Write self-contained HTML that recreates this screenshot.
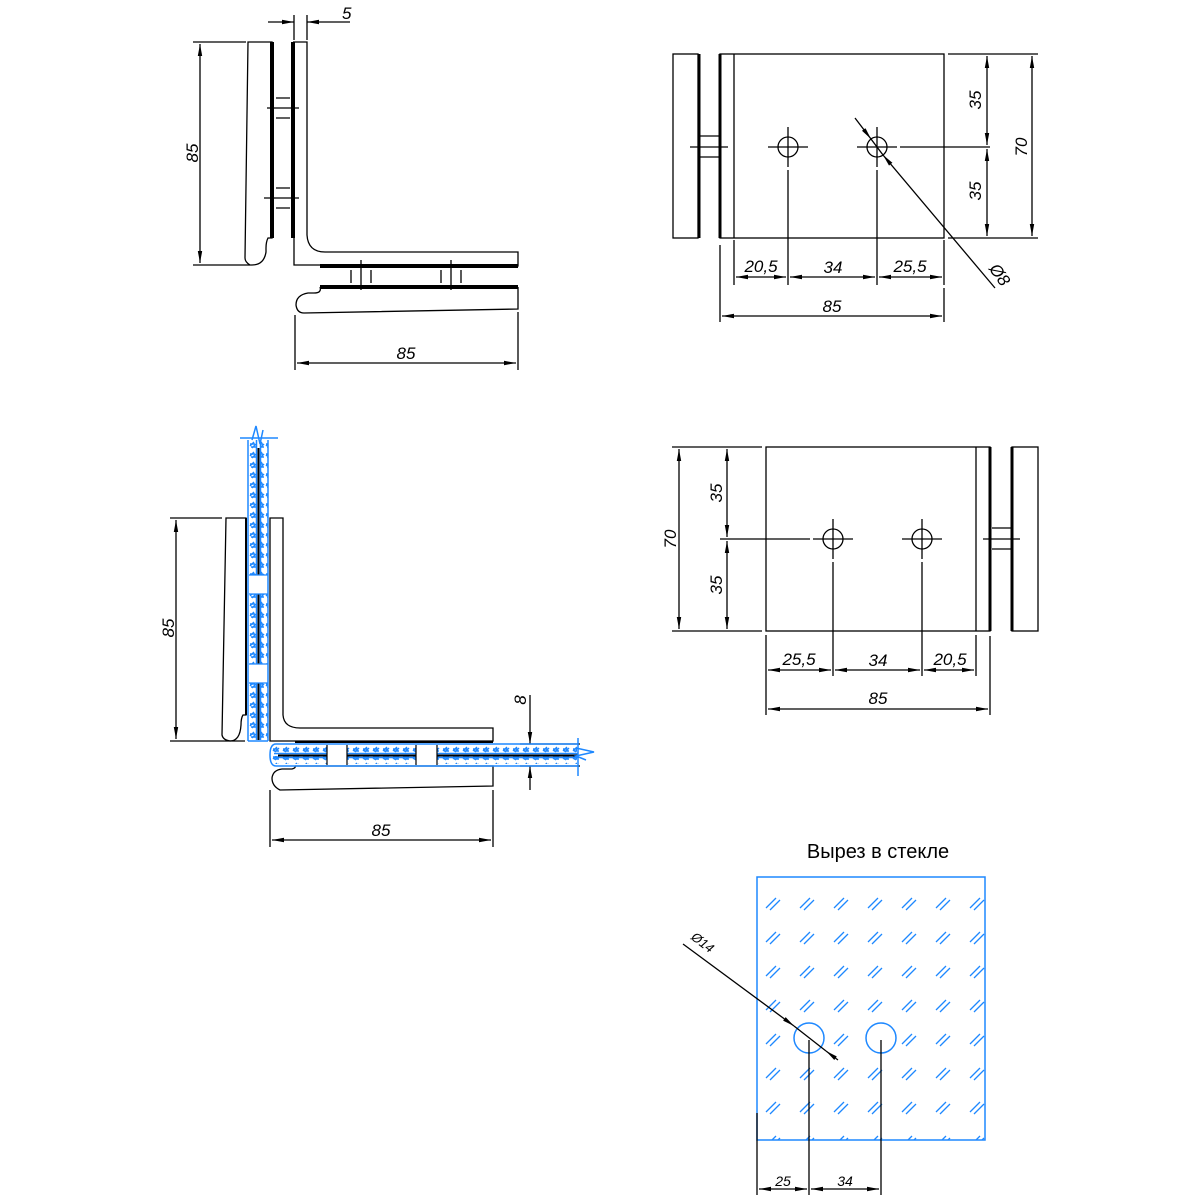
<!DOCTYPE html>
<html><head><meta charset="utf-8"><style>
html,body{margin:0;padding:0;background:#fff}
svg{display:block}
text{font-family:"Liberation Sans","DejaVu Sans",sans-serif;font-style:italic;font-size:17px;fill:#000}
</style></head><body>
<svg width="1200" height="1200" viewBox="0 0 1200 1200" xmlns="http://www.w3.org/2000/svg">
<defs>
<marker id="a" viewBox="0 0 12 6" refX="12" refY="3" markerWidth="12" markerHeight="6" orient="auto-start-reverse" markerUnits="userSpaceOnUse"><path d="M0,0.8 L12,3 L0,5.2z" fill="#000"/></marker>
<pattern id="hv" x="249" y="440" width="8" height="10" patternUnits="userSpaceOnUse"><path d="M1,6 L5,2 M3,8 L7,4 M1,4 H6 M2,7 H7" stroke="#1e88ff" stroke-width="1.4"/></pattern>
<pattern id="hh" x="272" y="745" width="10" height="8" patternUnits="userSpaceOnUse"><path d="M1,6 L5,2 M3,7 L7,3 M1,4 H6 M2,6 H7" stroke="#1e88ff" stroke-width="1.4"/></pattern>
<pattern id="hg" x="757" y="877" width="34" height="34" patternUnits="userSpaceOnUse"><path d="M9,31 L19,21 M13,33 L23,23" stroke="#1e88ff" stroke-width="1.3"/></pattern>
</defs>
<g fill="none" stroke="#000" stroke-width="1.3">
<path d="M248,42 L272,42 L272,238 L268,238 Q266,242 266,248 L266,252 Q264,265 252,265 L250,265 Q245,262 245,258 Z"/>
<line x1="272" y1="42" x2="272" y2="238" stroke-width="4"/>
<line x1="293" y1="42" x2="293" y2="238" stroke-width="4"/>
<path d="M293,42 L307,42 L307,235 Q308,252 325,252 L518,252 L518,266 L320,266 M294,238 L294,265 L320,265"/>
<line x1="320" y1="266" x2="518" y2="266" stroke-width="4"/>
<line x1="320" y1="287" x2="518" y2="287" stroke-width="4"/>
<path d="M320,287 Q322,293 314,293 L308,293 Q296,295 296,305 Q297,313 304,313 L518,309 L518,287"/>
<path d="M267,108 H299 M276,98 H290 M276,118 H290 M264,198 H299 M276,188 H290 M276,208 H290"/>
<path d="M361,260 V290 M351,270 V283 M371,270 V283 M451,260 V290 M441,270 V283 M461,270 V283"/>
<path d="M193,42 H246 M193,265 H250"/>
<line x1="200" y1="44" x2="200" y2="263" marker-start="url(#a)" marker-end="url(#a)"/>
<path d="M294,15 V40 M307,15 V40"/>
<line x1="268" y1="22" x2="294" y2="22" marker-end="url(#a)"/>
<line x1="350" y1="22" x2="307" y2="22" marker-end="url(#a)"/>
<path d="M295,315 V370 M518,312 V370"/>
<line x1="297" y1="363" x2="516" y2="363" marker-start="url(#a)" marker-end="url(#a)"/>

<rect x="673" y="54" width="25" height="184"/>
<line x1="699" y1="54" x2="699" y2="238" stroke-width="3"/>
<line x1="720" y1="54" x2="720" y2="238" stroke-width="3"/>
<rect x="720" y="54" width="224" height="184"/>
<line x1="734" y1="54" x2="734" y2="238"/>
<path d="M700,136 H719 M700,157 H719 M690,147 H728"/>
<circle cx="788" cy="147" r="10"/><circle cx="877" cy="147" r="10"/>
<path d="M768,147 H808 M788,127 V167 M857,147 H897 M877,127 V167 M900,147 H990"/>
<path d="M948,54 H1038 M948,238 H1038"/>
<line x1="987" y1="56" x2="987" y2="145" marker-start="url(#a)" marker-end="url(#a)"/>
<line x1="987" y1="149" x2="987" y2="236" marker-start="url(#a)" marker-end="url(#a)"/>
<line x1="1032" y1="56" x2="1032" y2="236" marker-start="url(#a)" marker-end="url(#a)"/>
<line x1="855" y1="118" x2="871" y2="139" marker-end="url(#a)"/>
<line x1="995" y1="288" x2="883" y2="155" marker-end="url(#a)"/>
<line x1="871" y1="139" x2="883" y2="155"/>
<path d="M734,240 V285 M788,170 V285 M877,170 V285 M944,240 V285 M720,245 V322 M944,288 V322"/>
<line x1="736" y1="277" x2="786" y2="277" marker-start="url(#a)" marker-end="url(#a)"/>
<line x1="790" y1="277" x2="875" y2="277" marker-start="url(#a)" marker-end="url(#a)"/>
<line x1="879" y1="277" x2="942" y2="277" marker-start="url(#a)" marker-end="url(#a)"/>
<line x1="722" y1="316" x2="942" y2="316" marker-start="url(#a)" marker-end="url(#a)"/>

<rect x="766" y="447" width="224" height="184"/>
<line x1="976" y1="447" x2="976" y2="631"/>
<line x1="990" y1="447" x2="990" y2="631" stroke-width="3"/>
<line x1="1012" y1="447" x2="1012" y2="631" stroke-width="3"/>
<rect x="1012" y="447" width="26" height="184"/>
<path d="M992,528 H1011 M992,549 H1011 M983,539 H1020"/>
<circle cx="833" cy="539" r="10"/><circle cx="922" cy="539" r="10"/>
<path d="M813,539 H853 M833,519 V559 M902,539 H942 M922,519 V559 M720,539 H810"/>
<path d="M672,447 H762 M672,631 H762"/>
<line x1="679" y1="449" x2="679" y2="629" marker-start="url(#a)" marker-end="url(#a)"/>
<line x1="727" y1="449" x2="727" y2="537" marker-start="url(#a)" marker-end="url(#a)"/>
<line x1="727" y1="541" x2="727" y2="629" marker-start="url(#a)" marker-end="url(#a)"/>
<path d="M766,635 V715 M833,562 V676 M922,562 V676 M976,635 V676 M990,636 V715"/>
<line x1="768" y1="670" x2="831" y2="670" marker-start="url(#a)" marker-end="url(#a)"/>
<line x1="835" y1="670" x2="920" y2="670" marker-start="url(#a)" marker-end="url(#a)"/>
<line x1="924" y1="670" x2="974" y2="670" marker-start="url(#a)" marker-end="url(#a)"/>
<line x1="768" y1="709" x2="988" y2="709" marker-start="url(#a)" marker-end="url(#a)"/>

<path d="M226,518 L246,518 L246,715 L243,715 Q241,718 241,725 Q240,741 230,741 Q223,740 222,735 Z"/>
<path d="M170,518 H222 M170,741 H245"/>
<line x1="176" y1="520" x2="176" y2="739" marker-start="url(#a)" marker-end="url(#a)"/>
<path d="M270,518 L283,518 L283,715 Q284,728 300,728 L493,728 L493,741 L270,741 Z"/>
<path d="M295,766 L493,766 L493,786 L280,790 Q272,786 272,778 Q273,770 282,769 L292,769 Q296,768 295,766"/>
<path d="M270,847 V790 M493,847 V790"/>
<line x1="272" y1="840" x2="491" y2="840" marker-start="url(#a)" marker-end="url(#a)"/>
<path d="M520,744 H580 M520,766 H580"/>
<line x1="530" y1="695" x2="530" y2="744" marker-end="url(#a)"/>
<line x1="530" y1="790" x2="530" y2="766" marker-end="url(#a)"/>
</g>
<!-- vertical glass -->
<rect x="249" y="440" width="8" height="300" fill="url(#hv)"/>
<rect x="260" y="440" width="8" height="300" fill="url(#hv)"/>
<rect x="249" y="575" width="19" height="19" fill="#fff"/>
<rect x="249" y="664" width="19" height="19" fill="#fff"/>
<g fill="none" stroke-width="1.5">
<path d="M248,440 V741 M268,440 V741 M248,741 H268 M256.5,440 V575 M256.5,594 V664 M256.5,683 V740 M260.5,440 V575 M260.5,594 V664 M260.5,683 V740" stroke="#1e88ff"/>
<path d="M258.5,448 V575 M258.5,594 V664 M258.5,683 V740 M246,518 V715" stroke="#000" stroke-width="2"/>
<path d="M249,575 H268 M249,594 H268 M249,664 H268 M249,683 H268" stroke="#1e88ff" stroke-width="1.2"/>
<path d="M240,438 H278 M252,440 L256,426 L260,444 L263,430" stroke="#1e88ff"/>
</g>
<!-- horizontal glass -->
<rect x="272" y="745" width="305" height="8" fill="url(#hh)"/>
<rect x="272" y="756" width="305" height="8" fill="url(#hh)"/>
<rect x="327" y="745" width="20" height="20" fill="#fff"/>
<rect x="416" y="745" width="21" height="20" fill="#fff"/>
<g fill="none" stroke-width="1.5">
<path d="M578,744 H276 Q270,744 270,755 Q270,766 276,766 H578 M274,753.5 H327 M347,753.5 H416 M437,753.5 H578 M274,757.5 H327 M347,757.5 H416 M437,757.5 H578" stroke="#1e88ff"/>
<path d="M278,755.5 H327 M347,755.5 H416 M437,755.5 H578 M295,742 H493" stroke="#000" stroke-width="2"/>
<path d="M327,745 V765 M347,745 V765 M416,745 V765 M437,745 V765" stroke="#000" stroke-width="1.2"/>
<path d="M578,738 V776 M576,748 L594,752 L576,756 L586,760" stroke="#1e88ff"/>
</g>

<rect x="757" y="877" width="228" height="263" fill="url(#hg)"/>
<rect x="757" y="877" width="228" height="263" fill="none" stroke="#1e88ff" stroke-width="1.5"/>
<circle cx="809" cy="1038" r="15" fill="#fff" stroke="#1e88ff" stroke-width="1.5"/>
<circle cx="881" cy="1038" r="15" fill="#fff" stroke="#1e88ff" stroke-width="1.5"/>
<g fill="none" stroke="#000" stroke-width="1.3">
<line x1="683" y1="944" x2="794" y2="1026" marker-end="url(#a)"/>
<line x1="838" y1="1060" x2="826" y2="1051" marker-end="url(#a)"/>
<line x1="794" y1="1026" x2="826" y2="1051"/>
<path d="M757,1113 V1195 M809,1040 V1195 M881,1040 V1195"/>
<line x1="759" y1="1189" x2="807" y2="1189" marker-start="url(#a)" marker-end="url(#a)"/>
<line x1="811" y1="1189" x2="879" y2="1189" marker-start="url(#a)" marker-end="url(#a)"/>
</g>

<text x="342" y="19">5</text>
<text transform="translate(198,153) rotate(-90)" text-anchor="middle">85</text>
<text x="406" y="359" text-anchor="middle">85</text>
<text transform="translate(981,100) rotate(-90)" text-anchor="middle">35</text>
<text transform="translate(981,191) rotate(-90)" text-anchor="middle">35</text>
<text transform="translate(1027,147) rotate(-90)" text-anchor="middle">70</text>
<text transform="translate(995,278) rotate(55)" text-anchor="middle">Ø8</text>
<text x="761" y="272" text-anchor="middle">20,5</text>
<text x="833" y="273" text-anchor="middle">34</text>
<text x="910" y="272" text-anchor="middle">25,5</text>
<text x="832" y="312" text-anchor="middle">85</text>
<text transform="translate(676,539) rotate(-90)" text-anchor="middle">70</text>
<text transform="translate(722,493) rotate(-90)" text-anchor="middle">35</text>
<text transform="translate(722,585) rotate(-90)" text-anchor="middle">35</text>
<text x="799" y="665" text-anchor="middle">25,5</text>
<text x="878" y="666" text-anchor="middle">34</text>
<text x="950" y="665" text-anchor="middle">20,5</text>
<text x="878" y="704" text-anchor="middle">85</text>
<text transform="translate(174,628) rotate(-90)" text-anchor="middle">85</text>
<text transform="translate(526,700) rotate(-90)" text-anchor="middle">8</text>
<text x="381" y="836" text-anchor="middle">85</text>
<text x="878" y="858" text-anchor="middle" style="font-style:normal;font-size:20px">Вырез в стекле</text>
<text transform="translate(700,946) rotate(37)" text-anchor="middle" style="font-size:13px">Ø14</text>
<text x="783" y="1186" text-anchor="middle" style="font-size:14px">25</text>
<text x="845" y="1186" text-anchor="middle" style="font-size:14px">34</text>
</svg>
</body></html>
